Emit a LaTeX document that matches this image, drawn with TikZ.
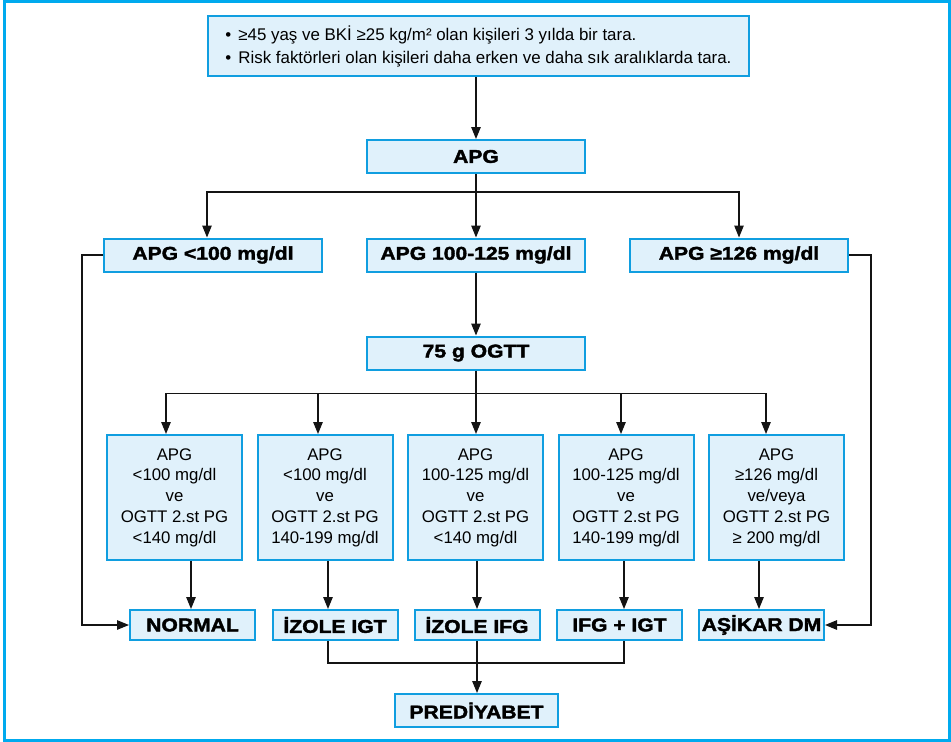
\documentclass[tikz,border=0pt]{standalone}
\usepackage{fontspec}
\setmainfont{Liberation Sans}
\newfontfamily\heavyfont[FakeStretch=1.14,FakeBold=2]{Liberation Sans}
\usetikzlibrary{arrows.meta}
\definecolor{boxline}{RGB}{16,158,224}
\definecolor{boxfill}{RGB}{224,241,251}
\definecolor{framecol}{RGB}{0,170,238}
\definecolor{wire}{RGB}{20,20,20}

\begin{document}
\begin{tikzpicture}[x=1pt,y=-1pt,
  box/.style={draw=boxline, fill=boxfill, line width=2pt, inner sep=0pt},
  heading/.style={box, font=\heavyfont\bfseries\fontsize{18.5}{22}\selectfont},
  wide/.style={heading, minimum width=218pt, minimum height=33pt},
  res/.style={heading, minimum width=125pt, minimum height=30pt},
  cond/.style={box, minimum width=135pt, minimum height=125pt, align=center,
    font=\fontsize{16.8}{20.8}\selectfont},
  link/.style={draw=wire, line width=1.2pt},
  arr/.style={link, -{Triangle[length=12pt,width=9.5pt]}},
]
\useasboundingbox (0,0) rectangle (951,742);
% outer frame
\draw[framecol, line width=2.2pt] (4.5,1.5) rectangle (949.5,740.5);

% screening advice
\node[box, minimum width=541pt, minimum height=60pt, align=left,
  font=\fontsize{16.9}{23}\selectfont]
  (top) at (478.5,46)
  {•\hspace{7pt}≥45 yaş ve BKİ ≥25 kg/m² olan kişileri 3 yılda bir tara.\\
   •\hspace{7pt}Risk faktörleri olan kişileri daha erken ve daha sık aralıklarda tara.};

% fasting glucose and its three ranges
\node[wide] (apg) at (476,156.5) {APG};
\node[wide] (a1) at (213,255) {APG <100 mg/dl};
\node[wide] (a2) at (476,255) {APG 100-125 mg/dl};
\node[wide] (a3) at (739,255) {APG ≥126 mg/dl};
\node[wide] (ogtt) at (476,353) {75 g OGTT};

% OGTT outcomes
\node[cond] (c1) at (174.5,497.5) {APG\\<100 mg/dl\\ve\\OGTT 2.st PG\\<140 mg/dl};
\node[cond] (c2) at (325,497.5) {APG\\<100 mg/dl\\ve\\OGTT 2.st PG\\140-199 mg/dl};
\node[cond] (c3) at (475.5,497.5) {APG\\100-125 mg/dl\\ve\\OGTT 2.st PG\\<140 mg/dl};
\node[cond] (c4) at (626,497.5) {APG\\100-125 mg/dl\\ve\\OGTT 2.st PG\\140-199 mg/dl};
\node[cond] (c5) at (776.5,497.5) {APG\\≥126 mg/dl\\ve/veya\\OGTT 2.st PG\\≥ 200 mg/dl};

% diagnoses
\node[res] (normal) at (192.5,625) {NORMAL};
\node[res] (igt) at (335,625) {İZOLE IGT};
\node[res] (ifg) at (477,625) {İZOLE IFG};
\node[res] (both) at (619.5,625) {IFG + IGT};
\node[res] (dm) at (761.5,625) {AŞİKAR DM};
\node[heading, minimum width=163pt, minimum height=33pt] (pre) at (476.5,710.5) {PREDİYABET};

% connectors
\draw[arr] (top.south -| apg.north) -- (apg.north);
\draw[link] (apg.south) -- ++(0,18) coordinate (s1);
\draw[arr] (s1) -| ([xshift=-6pt]a1.north);
\draw[arr] (s1) -- (a2.north);
\draw[arr] (s1) -| (a3.north);
\draw[arr] (a2.south) -- (ogtt.north);

\draw[link] (ogtt.south) -- ++(0,23) coordinate (s2);
\draw[arr] (s2) -| ([xshift=-8.5pt]c1.north);
\draw[arr] (s2) -| ([xshift=-7pt]c2.north);
\draw[arr] (s2) -- ([xshift=0.5pt]c3.north);
\draw[arr] (s2) -| ([xshift=-5pt]c4.north);
\draw[arr] (s2) -| ([xshift=-10.5pt]c5.north);

\draw[arr] ([xshift=16.5pt]c1.south) -- ([xshift=-1.5pt]normal.north);
\draw[arr] ([xshift=3pt]c2.south) -- ([xshift=-7pt]igt.north);
\draw[arr] ([xshift=1.5pt]c3.south) -- (ifg.north);
\draw[arr] ([xshift=-2pt]c4.south) -- ([xshift=4.5pt]both.north);
\draw[arr] ([xshift=-17.5pt]c5.south) -- ([xshift=-2.5pt]dm.north);

\draw[arr] (a1.west) -- ++(-21,0) |- (normal.west);
\draw[arr] (a3.east) -- ++(22,0) |- (dm.east);

\draw[link] ([xshift=-7pt]igt.south) -- ++(0,22) -| ([xshift=4.5pt]both.south);
\draw[arr] (ifg.south) -- (pre.north -| ifg.south);
\end{tikzpicture}
\end{document}
